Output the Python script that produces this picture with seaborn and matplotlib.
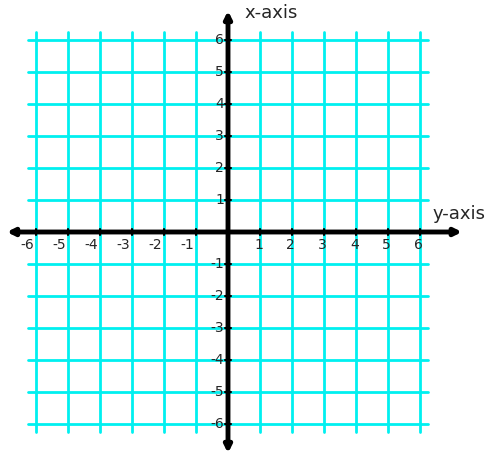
import numpy as np
import pandas as pd
import matplotlib
matplotlib.use("Agg")
import matplotlib.pyplot as plt
import seaborn as sns

sns.set_style("white")
plt.rcParams["font.family"] = ["DejaVu Sans"]

TICKS = list(range(-6, 7))
GRID_EXTENT = 6.25
CYAN = "#00f0f0"

fig = plt.figure(figsize=(5.0, 4.68), dpi=100)
ax = fig.add_axes([0, 0, 1, 1])
ax.set_xlim(-228 / 32, 272 / 32)
ax.set_ylim(-236 / 32, 232 / 32)
ax.axis("off")

# grid lines
for t in TICKS:
    seg = pd.DataFrame({"x": [t, t], "y": [-GRID_EXTENT, GRID_EXTENT]})
    sns.lineplot(data=seg, x="x", y="y", color=CYAN, lw=2, ax=ax,
                 sort=False, estimator=None)
    seg = pd.DataFrame({"x": [-GRID_EXTENT, GRID_EXTENT], "y": [t, t]})
    sns.lineplot(data=seg, x="x", y="y", color=CYAN, lw=2, ax=ax,
                 sort=False, estimator=None)

# axes with arrows
ax.annotate("", xy=(-7.0, 0), xytext=(7.4, 0),
            arrowprops=dict(arrowstyle="<|-|>", color="black", lw=3.5, mutation_scale=10))
ax.annotate("", xy=(0, 7.0), xytext=(0, -7.0),
            arrowprops=dict(arrowstyle="<|-|>", color="black", lw=3.5, mutation_scale=10))

for t in TICKS:
    ax.plot([t, t], [-0.1, 0.1], color="black", lw=1.5)
    ax.plot([-0.1, 0.1], [t, t], color="black", lw=1.5)
    if t != 0:
        ax.text(t - 0.05, -0.18, str(t), ha="right" if t < 0 else "center",
                va="top", fontsize=10)
        ax.text(-0.12, t, str(t), ha="right", va="center", fontsize=10)

ax.text(0.5, 6.85, "x-axis", fontsize=13, va="center")
ax.text(6.4, 0.55, "y-axis", fontsize=13, va="center")

fig.savefig("out.png", dpi=100)
